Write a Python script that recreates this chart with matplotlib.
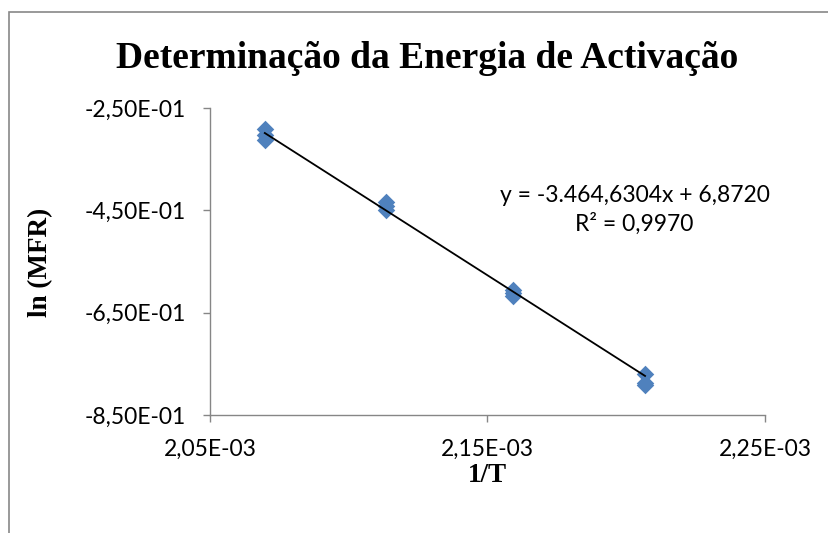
"""Arrhenius-style plot of ln(MFR) against 1/T with a linear trendline."""

import matplotlib
matplotlib.use("Agg")
import matplotlib.pyplot as plt  # noqa: E402
import numpy as np  # noqa: E402
from matplotlib.patches import Rectangle  # noqa: E402
from matplotlib.ticker import FuncFormatter  # noqa: E402

# three MFR measurements at each of 210, 200, 190 and 180 degC
temp_k = [483.15, 483.15, 483.15, 473.15, 473.15, 473.15,
          463.15, 463.15, 463.15, 453.15, 453.15, 453.15]
ln_mfr = [-0.291, -0.303, -0.313, -0.434, -0.441, -0.450,
          -0.605, -0.611, -0.618, -0.770, -0.788, -0.792]

slope = -3464.6304
intercept = 6.8720
r_squared = 0.9970

x_ticks = [2.05e-3, 2.15e-3, 2.25e-3]
y_ticks = [-0.85, -0.65, -0.45, -0.25]

inv_t = 1.0 / np.array(temp_k)


def sci_comma(v, _pos=None):
    # Excel-style "2,05E-03" with a decimal comma
    return f"{v:.2E}".replace(".", ",")


def thousands(v, dec):
    s = f"{abs(v):,.{dec}f}".replace(",", " ").replace(".", ",").replace(" ", ".")
    return ("-" if v < 0 else "") + s


fig = plt.figure(figsize=(8.29, 5.33), dpi=100)
ax = fig.add_axes([0.2533, 0.2214, 0.6695, 0.576])

# chart-area border
fig.patches.append(Rectangle((9 / 829, -0.05), 1.2, 1 - 12 / 533 + 0.05,
                             transform=fig.transFigure, fill=False,
                             edgecolor="#888888", linewidth=1.2))

ax.scatter(inv_t, ln_mfr, marker="D", s=80, color="#4F81BD", zorder=2,
           linewidths=0)
xs = np.array([inv_t.min(), inv_t.max()])
ax.plot(xs, slope * xs + intercept, color="black", linewidth=1.3, zorder=3)

ax.set_xlim(x_ticks[0], x_ticks[-1])
ax.set_ylim(y_ticks[0], y_ticks[-1])
ax.set_xticks(x_ticks)
ax.set_yticks(y_ticks)
ax.xaxis.set_major_formatter(FuncFormatter(sci_comma))
ax.yaxis.set_major_formatter(FuncFormatter(sci_comma))

for side in ("top", "right"):
    ax.spines[side].set_visible(False)
for side in ("left", "bottom"):
    ax.spines[side].set_color("#868686")
    ax.spines[side].set_linewidth(1.0)
ax.tick_params(direction="out", length=5, color="#868686", width=1.0,
               labelsize=16.5)
ax.tick_params(axis="x", pad=12)
ax.tick_params(axis="y", pad=12)
for lab in ax.get_xticklabels() + ax.get_yticklabels():
    lab.set_family("Lato")

serif = ["Liberation Serif", "DejaVu Serif"]
fig.text(0.515, 0.89, "Determinação da Energia de Activação", ha="center",
         va="center", fontsize=27, fontweight="bold", family=serif)
ax.set_xlabel("1/T", fontsize=19.5, fontweight="bold", family=serif)
ax.set_ylabel("ln (MFR)", fontsize=19.5, fontweight="bold", family=serif)
ax.xaxis.set_label_coords(0.5, -0.197)
ax.yaxis.set_label_coords(-0.306, 0.498)
ax.xaxis.label.set_verticalalignment("center")
ax.yaxis.label.set_verticalalignment("center")

ax.text(0.765, 0.668,
        f"y = {thousands(slope, 4)}x + {thousands(intercept, 4)}\n"
        f"R² = {thousands(r_squared, 4)}",
        transform=ax.transAxes, ha="center", va="center", fontsize=16.5,
        family="Lato", linespacing=1.4)

fig.savefig("out.png", dpi=100)
